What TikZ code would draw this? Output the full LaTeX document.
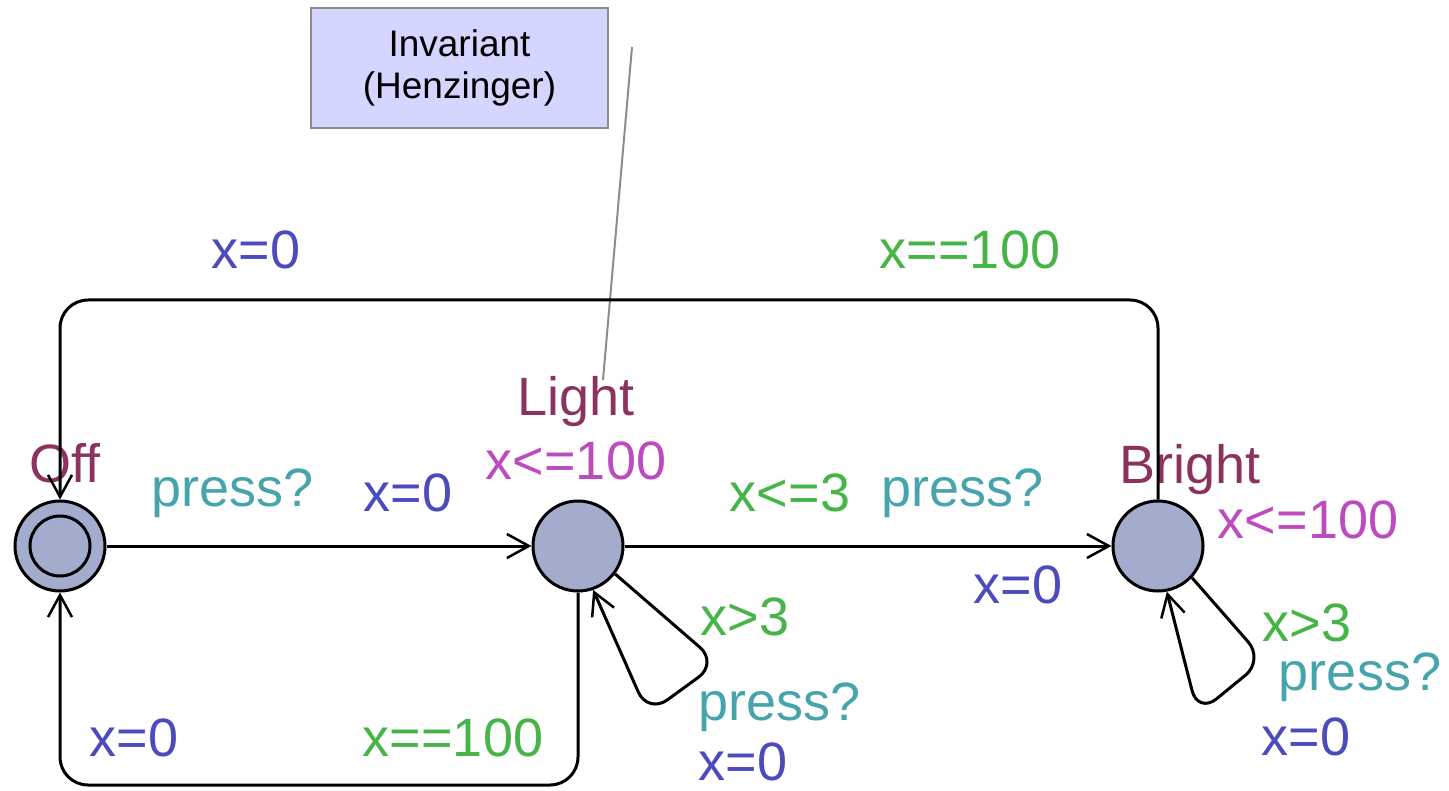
\documentclass[tikz,border=0pt]{standalone}
\usepackage{fontspec}
\setmainfont{Liberation Sans}
\usetikzlibrary{arrows.meta}
\definecolor{statefill}{RGB}{164,172,205}
\definecolor{namecol}{RGB}{140,50,95}
\definecolor{invcol}{RGB}{190,75,190}
\definecolor{synccol}{RGB}{70,165,172}
\definecolor{assigncol}{RGB}{75,75,190}
\definecolor{guardcol}{RGB}{70,180,70}
\definecolor{notefill}{RGB}{212,214,255}
\definecolor{notedraw}{RGB}{140,140,140}
\tikzset{
  statenode/.style={circle,draw=black,fill=statefill,line width=3pt,minimum size=90pt,inner sep=0pt},
  edge/.style={line width=3pt,-{Straight Barb[length=22pt,width=24pt,line width=2.5pt]}},
  lbl/.style={font=\fontsize{54}{60}\selectfont,inner sep=0pt},
  namel/.style={lbl,text=namecol},
  invl/.style={lbl,text=invcol},
  syncl/.style={lbl,text=synccol},
  assignl/.style={lbl,text=assigncol},
  guardl/.style={lbl,text=guardcol},
}
\begin{document}
\begin{tikzpicture}[x=1pt,y=-1pt]
\useasboundingbox (0,0) rectangle (1449,791);
% note
\node[draw=notedraw,fill=notefill,line width=2pt,minimum width=297pt,minimum height=120pt,align=center,font=\fontsize{37}{42}\selectfont,anchor=north west] (note) at (310,7) {Invariant\\(Henzinger)};
\coordinate (ns) at (632,47);
\coordinate (ne) at (603,380);
\draw[notedraw,line width=2pt] (ns) -- (ne);
% states
\node[statenode] (off) at (60,546) {};
\node[circle,draw=black,line width=3pt,minimum size=60pt,inner sep=0pt] (offin) at (60,546) {};
\node[statenode] (light) at (578,546) {};
\node[statenode] (bright) at (1158,546) {};
% state labels
\node[namel] at (65,463) {Off};
\node[namel] at (576,402) {Light};
\node[invl] at (576,461) {x<=100};
\node[namel] at (1190,470) {Bright};
\node[invl] at (1308,520) {x<=100};
% helper coordinates
\coordinate (tl) at (60,300);
\coordinate (bl) at (60,785);
\coordinate (lr) at (718,663);
\coordinate (lb) at (648,714);
\coordinate (br) at (1264,660);
\coordinate (bb) at (1198,714);
% edges
\draw[edge] (off) -- (light);
\draw[edge] (light) -- (bright);
\draw[edge,rounded corners=28pt] (bright.north) |- (tl) -- (off.north);
\draw[edge,rounded corners=28pt] (light.south) |- (bl) -- (off.south);
\draw[edge,rounded corners=24pt] (light.-37) -- (lr) -- (lb) -- (light.-71);
\draw[edge,rounded corners=24pt] (bright.-43) -- (br) -- (bb) -- (bright.-79);
% edge labels
\node[syncl] at (233,493) {press?};
\node[assignl] at (408,493) {x=0};
\node[guardl] at (790,493) {x<=3};
\node[syncl] at (963,493) {press?};
\node[assignl] at (1018,585) {x=0};
\node[assignl] at (256,250) {x=0};
\node[guardl] at (970,250) {x==100};
\node[assignl] at (134,738) {x=0};
\node[guardl] at (453,738) {x==100};
\node[guardl] at (745,617) {x>3};
\node[syncl] at (780,707) {press?};
\node[assignl] at (743,762) {x=0};
\node[guardl] at (1307,623) {x>3};
\node[syncl] at (1360,677) {press?};
\node[assignl] at (1306,737) {x=0};
\end{tikzpicture}
\end{document}
